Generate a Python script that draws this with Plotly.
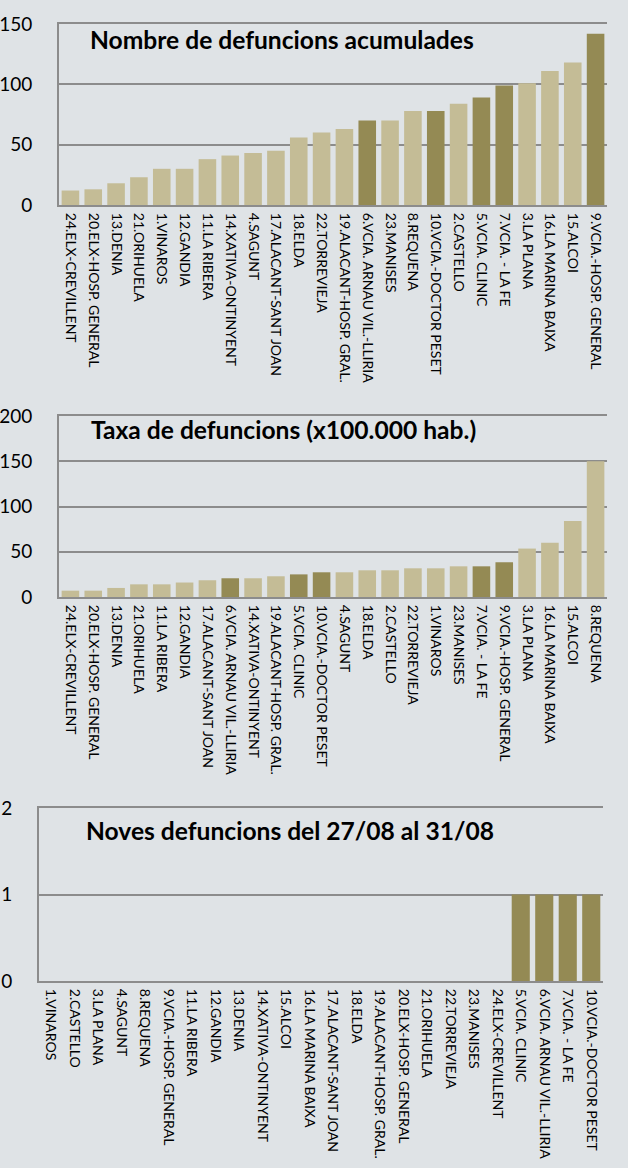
import plotly.graph_objects as go

# ---- Data ----
cats_acum = ["24.ELX-CREVILLENT", "20.ELX-HOSP. GENERAL", "13.DENIA", "21.ORIHUELA", "1.VINAROS",
             "12.GANDIA", "11.LA RIBERA", "14.XATIVA-ONTINYENT", "4.SAGUNT", "17.ALACANT-SANT JOAN",
             "18.ELDA", "22.TORREVIEJA", "19.ALACANT-HOSP. GRAL.", "6.VCIA. ARNAU VIL.-LLIRIA",
             "23.MANISES", "8.REQUENA", "10.VCIA.-DOCTOR PESET", "2.CASTELLO", "5.VCIA. CLINIC",
             "7.VCIA. - LA FE", "3.LA PLANA", "16.LA MARINA BAIXA", "15.ALCOI", "9.VCIA.-HOSP. GENERAL"]
vals_acum = [12, 13, 18, 23, 30, 30, 38, 41, 43, 45, 56, 60, 63, 70, 70, 78, 78, 84, 89, 99, 101, 111, 118, 142]

cats_taxa = ["24.ELX-CREVILLENT", "20.ELX-HOSP. GENERAL", "13.DENIA", "21.ORIHUELA", "11.LA RIBERA",
             "12.GANDIA", "17.ALACANT-SANT JOAN", "6.VCIA. ARNAU VIL.-LLIRIA", "14.XATIVA-ONTINYENT",
             "19.ALACANT-HOSP. GRAL.", "5.VCIA. CLINIC", "10.VCIA.-DOCTOR PESET", "4.SAGUNT", "18.ELDA",
             "2.CASTELLO", "22.TORREVIEJA", "1.VINAROS", "23.MANISES", "7.VCIA. - LA FE",
             "9.VCIA.-HOSP. GENERAL", "3.LA PLANA", "16.LA MARINA BAIXA", "15.ALCOI", "8.REQUENA"]
vals_taxa = [7, 7, 10, 14, 14, 16, 18.5, 20.7, 20.7, 22.9, 25, 27.3, 27.3, 29.5, 29.5, 31.7, 31.7,
             33.9, 33.9, 38.4, 53.5, 60, 84, 150]

cats_noves = ["1.VINAROS", "2.CASTELLO", "3.LA PLANA", "4.SAGUNT", "8.REQUENA", "9.VCIA.-HOSP. GENERAL",
              "11.LA RIBERA", "12.GANDIA", "13.DENIA", "14.XATIVA-ONTINYENT", "15.ALCOI",
              "16.LA MARINA BAIXA", "17.ALACANT-SANT JOAN", "18.ELDA", "19.ALACANT-HOSP. GRAL.",
              "20.ELX-HOSP. GENERAL", "21.ORIHUELA", "22.TORREVIEJA", "23.MANISES", "24.ELX-CREVILLENT",
              "5.VCIA. CLINIC", "6.VCIA. ARNAU VIL.-LLIRIA", "7.VCIA. - LA FE", "10.VCIA.-DOCTOR PESET"]
vals_noves = [0, 0, 0, 0, 0, 0, 0, 0, 0, 0, 0, 0, 0, 0, 0, 0, 0, 0, 0, 0, 1, 1, 1, 1]

titles = ["Nombre de defuncions acumulades",
          "Taxa de defuncions (x100.000 hab.)",
          "Noves defuncions del 27/08 al 31/08"]

# ---- Style ----
BG = "#dfe3e6"
LIGHT = "#c4bc96"
DARK = "#948a54"
GRID = "#8c8c8c"
NUM_FONT = dict(family="Lato, Open Sans, sans-serif", size=19, color="#000000")
CAT_FONT = dict(family="Lato, sans-serif", size=14, color="#000000")
TITLE_FONT = dict(family="Lato, Open Sans, sans-serif", size=24.6, color="#000000")

H = 1168.0
W = 628.0


def colors(cats):
    return [DARK if "VCIA" in c else LIGHT for c in cats]


fig = go.Figure()
panels = [
    (cats_acum, vals_acum, 150, 50, (59, 607), (24, 205), (282, 39)),
    (cats_taxa, vals_taxa, 200, 50, (59, 607), (416, 597), (283, 429)),
    (cats_noves, vals_noves, 2, 1, (39, 603), (808, 981), (290, 830)),
]

for i, (cats, vals, ymax, dt, (x0, x1), (y0, y1), (tx, ty)) in enumerate(panels):
    n = "" if i == 0 else str(i + 1)
    fig.add_trace(go.Bar(x=cats, y=vals, marker=dict(color=colors(cats), line=dict(width=0)),
                         xaxis="x" + n, yaxis="y" + n, showlegend=False))
    fig.layout["xaxis" + n] = dict(
        domain=[x0 / W, x1 / W], anchor="y" + n, type="category", automargin=False,
        tickangle=90, tickfont=CAT_FONT, showline=True, linecolor=GRID, linewidth=2,
        mirror=True, showgrid=False, ticks="", ticklabelstandoff=3)
    fig.layout["yaxis" + n] = dict(
        domain=[1 - y1 / H, 1 - y0 / H], anchor="x" + n, range=[0, ymax], dtick=dt,
        automargin=False, tickfont=NUM_FONT, showline=True, linecolor=GRID, linewidth=2,
        showgrid=True, gridcolor=GRID, gridwidth=1.5, zeroline=False, ticks="",
        ticklabelstandoff=21)
    fig.add_annotation(text="<b>" + titles[i] + "</b>", x=tx / W, y=1 - ty / H,
                       xref="paper", yref="paper", showarrow=False, font=TITLE_FONT,
                       xanchor="center", yanchor="middle")

fig.update_layout(width=628, height=1168, margin=dict(l=0, r=0, t=0, b=0, autoexpand=False),
                  paper_bgcolor=BG, plot_bgcolor=BG, bargap=0.23)

fig.write_html("out.html",
               config={"displayModeBar": False},
               post_script="document.body.style.margin='0';"
                           "document.body.style.overflow='hidden';"
                           "document.body.style.background='" + BG + "';")
